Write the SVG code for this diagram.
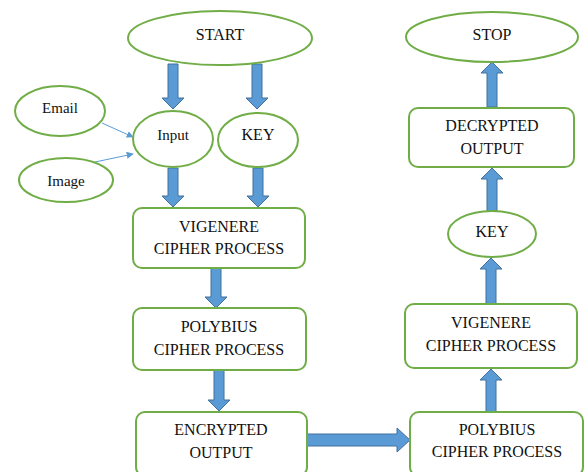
<svg xmlns="http://www.w3.org/2000/svg" width="584" height="472" viewBox="0 0 584 472">
<defs>
<marker id="ah" viewBox="0 0 10 10" refX="9" refY="5" markerWidth="7" markerHeight="7" markerUnits="userSpaceOnUse" orient="auto"><path d="M0,0 L10,5 L0,10 z" fill="#5B9BD5"/></marker>
</defs>
<style>
.n{fill:#fff;stroke:#70AD47;stroke-width:2}
.t{font-family:'Liberation Serif','Times New Roman','DejaVu Serif',serif;font-size:16px;fill:#111;text-anchor:middle}
.s{font-size:15px}
.ba{fill:#5B9BD5;stroke:#41719C;stroke-width:1}
.thin{stroke:#5B9BD5;stroke-width:1;fill:none;marker-end:url(#ah)}
</style>
<rect width="584" height="472" fill="#fff"/>
<g id="connectors">
<polygon class="ba" points="168,64 178,64 178,98 184,98 173,109 162,98 168,98"/>
<polygon class="ba" points="252,64 262,64 262,98 268,98 257,109 246,98 252,98"/>
<polygon class="ba" points="168,168 178,168 178,196 184,196 173,207 162,196 168,196"/>
<polygon class="ba" points="253,168 263,168 263,196 269,196 258,207 247,196 253,196"/>
<polygon class="ba" points="211,268 221,268 221,297 227,297 216,308 205,297 211,297"/>
<polygon class="ba" points="214,370 224,370 224,400 230,400 219,411 208,400 214,400"/>
<polygon class="ba" points="307,434 397,434 397,428 410,440 397,452 397,446 307,446"/>
<polygon class="ba" points="486,412 496,412 496,380 502,380 491,369 480,380 486,380"/>
<polygon class="ba" points="486,304 496,304 496,269 502,269 491,258 480,269 486,269"/>
<polygon class="ba" points="487,211 497,211 497,179 503,179 492,168 481,179 487,179"/>
<polygon class="ba" points="487,107 497,107 497,73 503,73 492,62 481,73 487,73"/>
<line class="thin" x1="102" y1="123" x2="133" y2="137"/>
<line class="thin" x1="95" y1="162" x2="133" y2="154"/>
</g>
<g id="start"><ellipse class="n" cx="220" cy="38" rx="92" ry="27"/><text class="t" x="220" y="40">START</text></g>
<g id="email"><ellipse class="n" cx="60" cy="111" rx="45" ry="25"/><text class="t s" x="60" y="113">Email</text></g>
<g id="image"><ellipse class="n" cx="66" cy="180" rx="47" ry="22"/><text class="t s" x="66" y="186">Image</text></g>
<g id="input"><ellipse class="n" cx="173" cy="139" rx="40" ry="28"/><text class="t s" x="173" y="140">Input</text></g>
<g id="key1"><ellipse class="n" cx="258" cy="140" rx="40" ry="27"/><text class="t" x="258" y="140">KEY</text></g>
<g id="vig1"><rect class="n" x="133" y="208" width="172" height="60" rx="9"/><text class="t" x="219" y="232">VIGENERE</text><text class="t" x="219" y="254">CIPHER PROCESS</text></g>
<g id="poly1"><rect class="n" x="133" y="308" width="173" height="62" rx="9"/><text class="t" x="219" y="332">POLYBIUS</text><text class="t" x="219" y="355">CIPHER PROCESS</text></g>
<g id="enc"><rect class="n" x="136" y="412" width="171" height="64" rx="9"/><text class="t" x="221" y="435">ENCRYPTED</text><text class="t" x="221" y="458">OUTPUT</text></g>
<g id="poly2"><rect class="n" x="410" y="412" width="173" height="64" rx="9"/><text class="t" x="497" y="435">POLYBIUS</text><text class="t" x="497" y="457">CIPHER PROCESS</text></g>
<g id="vig2"><rect class="n" x="405" y="304" width="172" height="64" rx="9"/><text class="t" x="491" y="328">VIGENERE</text><text class="t" x="491" y="351">CIPHER PROCESS</text></g>
<g id="key2"><ellipse class="n" cx="492" cy="234" rx="44" ry="23"/><text class="t" x="492" y="237">KEY</text></g>
<g id="dec"><rect class="n" x="409" y="108" width="165" height="59" rx="9"/><text class="t" x="492" y="131">DECRYPTED</text><text class="t" x="492" y="154">OUTPUT</text></g>
<g id="stop"><ellipse class="n" cx="492" cy="37" rx="86" ry="25"/><text class="t" x="492" y="40">STOP</text></g>
</svg>
